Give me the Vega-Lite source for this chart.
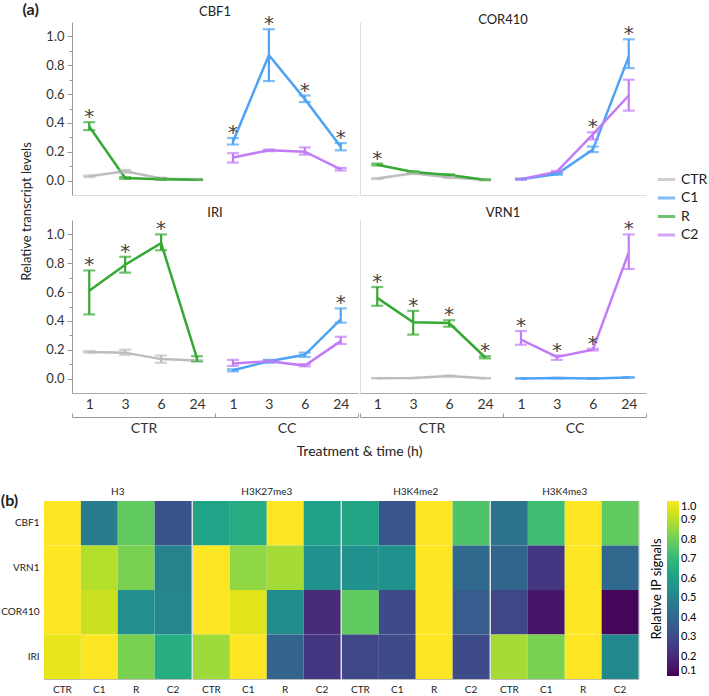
{
"$schema":"https://vega.github.io/schema/vega-lite/v6.json",
"padding":{"left":0,"top":2,"right":2,"bottom":0},
"datasets":{
"expr":[
{"gene":"CBF1","trt":"CTR","pos":"CTR 1","series":"CTR","mean":0.03,"lo":0.024,"hi":0.035,"star":0},
{"gene":"CBF1","trt":"CTR","pos":"CTR 3","series":"CTR","mean":0.065,"lo":0.056,"hi":0.074,"star":0},
{"gene":"CBF1","trt":"CTR","pos":"CTR 6","series":"CTR","mean":0.015,"lo":0.01,"hi":0.02,"star":0},
{"gene":"CBF1","trt":"CTR","pos":"CTR 24","series":"CTR","mean":0.008,"lo":0.005,"hi":0.011,"star":0},
{"gene":"CBF1","trt":"CTR","pos":"CTR 1","series":"R","mean":0.375,"lo":0.35,"hi":0.405,"star":1},
{"gene":"CBF1","trt":"CTR","pos":"CTR 3","series":"R","mean":0.018,"lo":0.012,"hi":0.024,"star":0},
{"gene":"CBF1","trt":"CTR","pos":"CTR 6","series":"R","mean":0.01,"lo":0.006,"hi":0.015,"star":0},
{"gene":"CBF1","trt":"CTR","pos":"CTR 24","series":"R","mean":0.006,"lo":0.004,"hi":0.008,"star":0},
{"gene":"CBF1","trt":"CC","pos":"CC 1","series":"C1","mean":0.27,"lo":0.25,"hi":0.295,"star":1},
{"gene":"CBF1","trt":"CC","pos":"CC 3","series":"C1","mean":0.87,"lo":0.69,"hi":1.05,"star":1},
{"gene":"CBF1","trt":"CC","pos":"CC 6","series":"C1","mean":0.565,"lo":0.545,"hi":0.59,"star":1},
{"gene":"CBF1","trt":"CC","pos":"CC 24","series":"C1","mean":0.235,"lo":0.21,"hi":0.26,"star":1},
{"gene":"CBF1","trt":"CC","pos":"CC 1","series":"C2","mean":0.16,"lo":0.125,"hi":0.19,"star":0},
{"gene":"CBF1","trt":"CC","pos":"CC 3","series":"C2","mean":0.21,"lo":0.204,"hi":0.216,"star":0},
{"gene":"CBF1","trt":"CC","pos":"CC 6","series":"C2","mean":0.2,"lo":0.18,"hi":0.23,"star":0},
{"gene":"CBF1","trt":"CC","pos":"CC 24","series":"C2","mean":0.078,"lo":0.07,"hi":0.088,"star":0},
{"gene":"COR410","trt":"CTR","pos":"CTR 1","series":"CTR","mean":0.014,"lo":0.01,"hi":0.018,"star":0},
{"gene":"COR410","trt":"CTR","pos":"CTR 3","series":"CTR","mean":0.05,"lo":0.045,"hi":0.055,"star":0},
{"gene":"COR410","trt":"CTR","pos":"CTR 6","series":"CTR","mean":0.022,"lo":0.018,"hi":0.026,"star":0},
{"gene":"COR410","trt":"CTR","pos":"CTR 24","series":"CTR","mean":0.005,"lo":0.003,"hi":0.007,"star":0},
{"gene":"COR410","trt":"CTR","pos":"CTR 1","series":"R","mean":0.11,"lo":0.105,"hi":0.118,"star":1},
{"gene":"COR410","trt":"CTR","pos":"CTR 3","series":"R","mean":0.06,"lo":0.055,"hi":0.065,"star":0},
{"gene":"COR410","trt":"CTR","pos":"CTR 6","series":"R","mean":0.038,"lo":0.033,"hi":0.043,"star":0},
{"gene":"COR410","trt":"CTR","pos":"CTR 24","series":"R","mean":0.005,"lo":0.003,"hi":0.008,"star":0},
{"gene":"COR410","trt":"CC","pos":"CC 1","series":"C1","mean":0.01,"lo":0.007,"hi":0.013,"star":0},
{"gene":"COR410","trt":"CC","pos":"CC 3","series":"C1","mean":0.045,"lo":0.04,"hi":0.05,"star":0},
{"gene":"COR410","trt":"CC","pos":"CC 6","series":"C1","mean":0.215,"lo":0.198,"hi":0.236,"star":0},
{"gene":"COR410","trt":"CC","pos":"CC 24","series":"C1","mean":0.86,"lo":0.78,"hi":0.98,"star":1},
{"gene":"COR410","trt":"CC","pos":"CC 1","series":"C2","mean":0.01,"lo":0.007,"hi":0.013,"star":0},
{"gene":"COR410","trt":"CC","pos":"CC 3","series":"C2","mean":0.062,"lo":0.057,"hi":0.067,"star":0},
{"gene":"COR410","trt":"CC","pos":"CC 6","series":"C2","mean":0.32,"lo":0.285,"hi":0.335,"star":1},
{"gene":"COR410","trt":"CC","pos":"CC 24","series":"C2","mean":0.59,"lo":0.485,"hi":0.7,"star":0},
{"gene":"IRI","trt":"CTR","pos":"CTR 1","series":"CTR","mean":0.185,"lo":0.18,"hi":0.19,"star":0},
{"gene":"IRI","trt":"CTR","pos":"CTR 3","series":"CTR","mean":0.18,"lo":0.165,"hi":0.2,"star":0},
{"gene":"IRI","trt":"CTR","pos":"CTR 6","series":"CTR","mean":0.135,"lo":0.11,"hi":0.16,"star":0},
{"gene":"IRI","trt":"CTR","pos":"CTR 24","series":"CTR","mean":0.125,"lo":0.12,"hi":0.13,"star":0},
{"gene":"IRI","trt":"CTR","pos":"CTR 1","series":"R","mean":0.61,"lo":0.445,"hi":0.75,"star":1},
{"gene":"IRI","trt":"CTR","pos":"CTR 3","series":"R","mean":0.79,"lo":0.735,"hi":0.845,"star":1},
{"gene":"IRI","trt":"CTR","pos":"CTR 6","series":"R","mean":0.94,"lo":0.89,"hi":1.0,"star":1},
{"gene":"IRI","trt":"CTR","pos":"CTR 24","series":"R","mean":0.14,"lo":0.12,"hi":0.155,"star":0},
{"gene":"IRI","trt":"CC","pos":"CC 1","series":"C1","mean":0.058,"lo":0.05,"hi":0.065,"star":0},
{"gene":"IRI","trt":"CC","pos":"CC 3","series":"C1","mean":0.12,"lo":0.11,"hi":0.13,"star":0},
{"gene":"IRI","trt":"CC","pos":"CC 6","series":"C1","mean":0.165,"lo":0.15,"hi":0.18,"star":0},
{"gene":"IRI","trt":"CC","pos":"CC 24","series":"C1","mean":0.41,"lo":0.388,"hi":0.487,"star":1},
{"gene":"IRI","trt":"CC","pos":"CC 1","series":"C2","mean":0.105,"lo":0.088,"hi":0.13,"star":0},
{"gene":"IRI","trt":"CC","pos":"CC 3","series":"C2","mean":0.12,"lo":0.115,"hi":0.125,"star":0},
{"gene":"IRI","trt":"CC","pos":"CC 6","series":"C2","mean":0.09,"lo":0.085,"hi":0.1,"star":0},
{"gene":"IRI","trt":"CC","pos":"CC 24","series":"C2","mean":0.26,"lo":0.24,"hi":0.29,"star":0},
{"gene":"VRN1","trt":"CTR","pos":"CTR 1","series":"CTR","mean":0.003,"lo":0.002,"hi":0.004,"star":0},
{"gene":"VRN1","trt":"CTR","pos":"CTR 3","series":"CTR","mean":0.004,"lo":0.003,"hi":0.005,"star":0},
{"gene":"VRN1","trt":"CTR","pos":"CTR 6","series":"CTR","mean":0.018,"lo":0.015,"hi":0.021,"star":0},
{"gene":"VRN1","trt":"CTR","pos":"CTR 24","series":"CTR","mean":0.003,"lo":0.002,"hi":0.004,"star":0},
{"gene":"VRN1","trt":"CTR","pos":"CTR 1","series":"R","mean":0.56,"lo":0.505,"hi":0.635,"star":1},
{"gene":"VRN1","trt":"CTR","pos":"CTR 3","series":"R","mean":0.39,"lo":0.305,"hi":0.47,"star":1},
{"gene":"VRN1","trt":"CTR","pos":"CTR 6","series":"R","mean":0.385,"lo":0.36,"hi":0.405,"star":1},
{"gene":"VRN1","trt":"CTR","pos":"CTR 24","series":"R","mean":0.148,"lo":0.14,"hi":0.155,"star":1},
{"gene":"VRN1","trt":"CC","pos":"CC 1","series":"C1","mean":0.001,"lo":0.0,"hi":0.002,"star":0},
{"gene":"VRN1","trt":"CC","pos":"CC 3","series":"C1","mean":0.004,"lo":0.003,"hi":0.005,"star":0},
{"gene":"VRN1","trt":"CC","pos":"CC 6","series":"C1","mean":0.001,"lo":0.0,"hi":0.002,"star":0},
{"gene":"VRN1","trt":"CC","pos":"CC 24","series":"C1","mean":0.008,"lo":0.006,"hi":0.01,"star":0},
{"gene":"VRN1","trt":"CC","pos":"CC 1","series":"C2","mean":0.27,"lo":0.235,"hi":0.33,"star":1},
{"gene":"VRN1","trt":"CC","pos":"CC 3","series":"C2","mean":0.15,"lo":0.13,"hi":0.16,"star":1},
{"gene":"VRN1","trt":"CC","pos":"CC 6","series":"C2","mean":0.2,"lo":0.195,"hi":0.207,"star":1},
{"gene":"VRN1","trt":"CC","pos":"CC 24","series":"C2","mean":0.875,"lo":0.76,"hi":1.0,"star":1}
],
"heat":[
{"mark":"H3","cond":"CTR","gene":"CBF1","v":1.0},{"mark":"H3","cond":"C1","gene":"CBF1","v":0.47},{"mark":"H3","cond":"R","gene":"CBF1","v":0.78},{"mark":"H3","cond":"C2","gene":"CBF1","v":0.33},
{"mark":"H3","cond":"CTR","gene":"VRN1","v":1.0},{"mark":"H3","cond":"C1","gene":"VRN1","v":0.9},{"mark":"H3","cond":"R","gene":"VRN1","v":0.82},{"mark":"H3","cond":"C2","gene":"VRN1","v":0.5},
{"mark":"H3","cond":"CTR","gene":"COR410","v":1.0},{"mark":"H3","cond":"C1","gene":"COR410","v":0.93},{"mark":"H3","cond":"R","gene":"COR410","v":0.54},{"mark":"H3","cond":"C2","gene":"COR410","v":0.51},
{"mark":"H3","cond":"CTR","gene":"IRI","v":0.97},{"mark":"H3","cond":"C1","gene":"IRI","v":1.0},{"mark":"H3","cond":"R","gene":"IRI","v":0.82},{"mark":"H3","cond":"C2","gene":"IRI","v":0.66},
{"mark":"H3K27me3","cond":"CTR","gene":"CBF1","v":0.62},{"mark":"H3K27me3","cond":"C1","gene":"CBF1","v":0.66},{"mark":"H3K27me3","cond":"R","gene":"CBF1","v":1.0},{"mark":"H3K27me3","cond":"C2","gene":"CBF1","v":0.61},
{"mark":"H3K27me3","cond":"CTR","gene":"VRN1","v":1.0},{"mark":"H3K27me3","cond":"C1","gene":"VRN1","v":0.85},{"mark":"H3K27me3","cond":"R","gene":"VRN1","v":0.88},{"mark":"H3K27me3","cond":"C2","gene":"VRN1","v":0.55},
{"mark":"H3K27me3","cond":"CTR","gene":"COR410","v":1.0},{"mark":"H3K27me3","cond":"C1","gene":"COR410","v":0.96},{"mark":"H3K27me3","cond":"R","gene":"COR410","v":0.53},{"mark":"H3K27me3","cond":"C2","gene":"COR410","v":0.21},
{"mark":"H3K27me3","cond":"CTR","gene":"IRI","v":0.87},{"mark":"H3K27me3","cond":"C1","gene":"IRI","v":1.0},{"mark":"H3K27me3","cond":"R","gene":"IRI","v":0.38},{"mark":"H3K27me3","cond":"C2","gene":"IRI","v":0.24},
{"mark":"H3K4me2","cond":"CTR","gene":"CBF1","v":0.63},{"mark":"H3K4me2","cond":"C1","gene":"CBF1","v":0.34},{"mark":"H3K4me2","cond":"R","gene":"CBF1","v":1.0},{"mark":"H3K4me2","cond":"C2","gene":"CBF1","v":0.75},
{"mark":"H3K4me2","cond":"CTR","gene":"VRN1","v":0.55},{"mark":"H3K4me2","cond":"C1","gene":"VRN1","v":0.55},{"mark":"H3K4me2","cond":"R","gene":"VRN1","v":1.0},{"mark":"H3K4me2","cond":"C2","gene":"VRN1","v":0.4},
{"mark":"H3K4me2","cond":"CTR","gene":"COR410","v":0.78},{"mark":"H3K4me2","cond":"C1","gene":"COR410","v":0.3},{"mark":"H3K4me2","cond":"R","gene":"COR410","v":1.0},{"mark":"H3K4me2","cond":"C2","gene":"COR410","v":0.36},
{"mark":"H3K4me2","cond":"CTR","gene":"IRI","v":0.29},{"mark":"H3K4me2","cond":"C1","gene":"IRI","v":0.3},{"mark":"H3K4me2","cond":"R","gene":"IRI","v":1.0},{"mark":"H3K4me2","cond":"C2","gene":"IRI","v":0.3},
{"mark":"H3K4me3","cond":"CTR","gene":"CBF1","v":0.44},{"mark":"H3K4me3","cond":"C1","gene":"CBF1","v":0.72},{"mark":"H3K4me3","cond":"R","gene":"CBF1","v":1.0},{"mark":"H3K4me3","cond":"C2","gene":"CBF1","v":0.78},
{"mark":"H3K4me3","cond":"CTR","gene":"VRN1","v":0.39},{"mark":"H3K4me3","cond":"C1","gene":"VRN1","v":0.24},{"mark":"H3K4me3","cond":"R","gene":"VRN1","v":1.0},{"mark":"H3K4me3","cond":"C2","gene":"VRN1","v":0.4},
{"mark":"H3K4me3","cond":"CTR","gene":"COR410","v":0.29},{"mark":"H3K4me3","cond":"C1","gene":"COR410","v":0.15},{"mark":"H3K4me3","cond":"R","gene":"COR410","v":1.0},{"mark":"H3K4me3","cond":"C2","gene":"COR410","v":0.11},
{"mark":"H3K4me3","cond":"CTR","gene":"IRI","v":0.88},{"mark":"H3K4me3","cond":"C1","gene":"IRI","v":0.82},{"mark":"H3K4me3","cond":"R","gene":"IRI","v":1.0},{"mark":"H3K4me3","cond":"C2","gene":"IRI","v":0.52}
]
},
"columns":1,
"align":"none",
"spacing":29,
"concat":[
{
"title":{"text":"(a)","anchor":"start","fontSize":16,"fontWeight":"bold","offset":-12,"dx":2},
"columns":2,
"bounds":"flush",
"spacing":{"row":25,"column":2},
"concat":[
{"width":314,"height":173,"title":{"text":"CBF1","offset":-5,"dx":14},"data":{"name":"expr"},
"transform":[{"filter":"datum.gene === 'CBF1'"}],
"layer":[
{"mark":{"type":"line","strokeWidth":2.5},"encoding":{
"x":{"field":"pos","type":"ordinal","sort":["CTR 1","CTR 3","CTR 6","CTR 24","CC 1","CC 3","CC 6","CC 24"],"scale":{"type":"point","padding":0.48,"range":[28,314]},"axis":{"labels":false,"ticks":false,"title":null,"domainColor":"#dddddd"}},
"y":{"field":"mean","type":"quantitative","title":"Relative transcript levels","scale":{"domain":[-0.1,1.1],"nice":false,"zero":false},"axis":{"offset":-28,"values":[0,0.1,0.2,0.3,0.4,0.5,0.6,0.7,0.8,0.9,1],"labelOverlap":false,"labelExpr":"round(datum.value*10)%2==0 ? format(datum.value,'.1f') : ''","tickSize":{"condition":{"test":"round(datum.value*10)%2==1","value":3},"value":5},"titleX":-38.5,"titleY":189,"titleAlign":"center","titleFontSize":13,"labelPadding":3}},
"color":{"field":"series","type":"nominal","scale":{"domain":["CTR","C1","R","C2"],"range":["#bdbdbd","#4fa3f4","#36a935","#c27cf7"]},"legend":{"title":null,"orient":"none","legendX":612,"legendY":147,"symbolType":"stroke","symbolStrokeWidth":3,"symbolSize":300,"labelFontSize":14,"rowPadding":0.5,"labelColor":"#222"}}}},
{"mark":{"type":"errorbar","ticks":true,"size":12,"thickness":2.2},"encoding":{
"x":{"field":"pos","type":"ordinal","sort":["CTR 1","CTR 3","CTR 6","CTR 24","CC 1","CC 3","CC 6","CC 24"]},
"y":{"field":"lo","type":"quantitative","title":"Relative transcript levels","scale":{"domain":[-0.1,1.1],"nice":false,"zero":false},"axis":{"offset":-28,"values":[0,0.1,0.2,0.3,0.4,0.5,0.6,0.7,0.8,0.9,1],"labelOverlap":false,"labelExpr":"round(datum.value*10)%2==0 ? format(datum.value,'.1f') : ''","tickSize":{"condition":{"test":"round(datum.value*10)%2==1","value":3},"value":5},"titleX":-38.5,"titleY":189,"titleAlign":"center","titleFontSize":13,"labelPadding":3}},"y2":{"field":"hi"},
"color":{"field":"series","type":"nominal"}}},
{"transform":[{"filter":"datum.star == 1"}],"mark":{"type":"text","text":"*","font":"DejaVu Sans","fontSize":20,"color":"#444","dy":-5},"encoding":{
"x":{"field":"pos","type":"ordinal","sort":["CTR 1","CTR 3","CTR 6","CTR 24","CC 1","CC 3","CC 6","CC 24"]},
"y":{"field":"hi","type":"quantitative","title":"Relative transcript levels","scale":{"domain":[-0.1,1.1],"nice":false,"zero":false},"axis":{"offset":-28,"values":[0,0.1,0.2,0.3,0.4,0.5,0.6,0.7,0.8,0.9,1],"labelOverlap":false,"labelExpr":"round(datum.value*10)%2==0 ? format(datum.value,'.1f') : ''","tickSize":{"condition":{"test":"round(datum.value*10)%2==1","value":3},"value":5},"titleX":-38.5,"titleY":189,"titleAlign":"center","titleFontSize":13,"labelPadding":3}}}}
]},
{"width":286,"height":173,"title":{"text":"COR410","offset":-5},"data":{"name":"expr"},
"transform":[{"filter":"datum.gene === 'COR410'"}],
"layer":[
{"mark":{"type":"line","strokeWidth":2.5},"encoding":{
"x":{"field":"pos","type":"ordinal","sort":["CTR 1","CTR 3","CTR 6","CTR 24","CC 1","CC 3","CC 6","CC 24"],"scale":{"type":"point","padding":0.48},"axis":{"labels":false,"ticks":false,"title":null,"domainColor":"#dddddd"}},
"y":{"field":"mean","type":"quantitative","title":null,"scale":{"domain":[-0.1,1.1],"nice":false,"zero":false},"axis":{"labels":false,"ticks":false,"title":null,"domainColor":"#dddddd"}},
"color":{"field":"series","type":"nominal","scale":{"domain":["CTR","C1","R","C2"],"range":["#bdbdbd","#4fa3f4","#36a935","#c27cf7"]},"legend":{"title":null,"orient":"none","legendX":612,"legendY":147,"symbolType":"stroke","symbolStrokeWidth":3,"symbolSize":300,"labelFontSize":14,"rowPadding":0.5,"labelColor":"#222"}}}},
{"mark":{"type":"errorbar","ticks":true,"size":12,"thickness":2.2},"encoding":{
"x":{"field":"pos","type":"ordinal","sort":["CTR 1","CTR 3","CTR 6","CTR 24","CC 1","CC 3","CC 6","CC 24"]},
"y":{"field":"lo","type":"quantitative","title":null,"scale":{"domain":[-0.1,1.1],"nice":false,"zero":false}},"y2":{"field":"hi"},
"color":{"field":"series","type":"nominal"}}},
{"transform":[{"filter":"datum.star == 1"}],"mark":{"type":"text","text":"*","font":"DejaVu Sans","fontSize":20,"color":"#444","dy":-5},"encoding":{
"x":{"field":"pos","type":"ordinal","sort":["CTR 1","CTR 3","CTR 6","CTR 24","CC 1","CC 3","CC 6","CC 24"]},
"y":{"field":"hi","type":"quantitative","title":null,"scale":{"domain":[-0.1,1.1],"nice":false,"zero":false}}}}
]},
{"width":314,"height":173,"title":{"text":"IRI","offset":-1,"dx":14},"data":{"name":"expr"},
"transform":[{"filter":"datum.gene === 'IRI'"}],
"resolve":{"scale":{"x":"independent"},"axis":{"x":"independent"}},
"layer":[
{"layer":[
{"mark":{"type":"line","strokeWidth":2.5},"encoding":{
"x":{"field":"pos","type":"ordinal","sort":["CTR 1","CTR 3","CTR 6","CTR 24","CC 1","CC 3","CC 6","CC 24"],"scale":{"type":"point","padding":0.48,"range":[28,314]},"axis":{"orient":"bottom","title":null,"ticks":false,"domainColor":"#aaaaaa","labelPadding":4,"labelFontSize":14,"labelAngle":0,"labelExpr":"split(datum.label,' ')[1]"}},
"y":{"field":"mean","type":"quantitative","title":null,"scale":{"domain":[-0.1,1.1],"nice":false,"zero":false},"axis":{"offset":-28,"values":[0,0.1,0.2,0.3,0.4,0.5,0.6,0.7,0.8,0.9,1],"labelOverlap":false,"labelExpr":"round(datum.value*10)%2==0 ? format(datum.value,'.1f') : ''","tickSize":{"condition":{"test":"round(datum.value*10)%2==1","value":3},"value":5},"labelPadding":3}},
"color":{"field":"series","type":"nominal","scale":{"domain":["CTR","C1","R","C2"],"range":["#bdbdbd","#4fa3f4","#36a935","#c27cf7"]},"legend":{"title":null,"orient":"none","legendX":612,"legendY":147,"symbolType":"stroke","symbolStrokeWidth":3,"symbolSize":300,"labelFontSize":14,"rowPadding":0.5,"labelColor":"#222"}}}},
{"mark":{"type":"errorbar","ticks":true,"size":12,"thickness":2.2},"encoding":{
"x":{"field":"pos","type":"ordinal","sort":["CTR 1","CTR 3","CTR 6","CTR 24","CC 1","CC 3","CC 6","CC 24"]},
"y":{"field":"lo","type":"quantitative","title":null,"scale":{"domain":[-0.1,1.1],"nice":false,"zero":false},"axis":{"offset":-28,"values":[0,0.1,0.2,0.3,0.4,0.5,0.6,0.7,0.8,0.9,1],"labelOverlap":false,"labelExpr":"round(datum.value*10)%2==0 ? format(datum.value,'.1f') : ''","tickSize":{"condition":{"test":"round(datum.value*10)%2==1","value":3},"value":5},"labelPadding":3}},"y2":{"field":"hi"},
"color":{"field":"series","type":"nominal"}}},
{"transform":[{"filter":"datum.star == 1"}],"mark":{"type":"text","text":"*","font":"DejaVu Sans","fontSize":20,"color":"#444","dy":-5},"encoding":{
"x":{"field":"pos","type":"ordinal","sort":["CTR 1","CTR 3","CTR 6","CTR 24","CC 1","CC 3","CC 6","CC 24"]},
"y":{"field":"hi","type":"quantitative","title":null,"scale":{"domain":[-0.1,1.1],"nice":false,"zero":false},"axis":{"offset":-28,"values":[0,0.1,0.2,0.3,0.4,0.5,0.6,0.7,0.8,0.9,1],"labelOverlap":false,"labelExpr":"round(datum.value*10)%2==0 ? format(datum.value,'.1f') : ''","tickSize":{"condition":{"test":"round(datum.value*10)%2==1","value":3},"value":5},"labelPadding":3}}}}
]},
{"mark":{"type":"point","opacity":0},"encoding":{
"x":{"field":"trt","type":"nominal","sort":["CTR","CC"],"scale":{"type":"band","paddingInner":0,"paddingOuter":0,"range":[28,314]},"axis":{"orient":"bottom","offset":24,"title":"Treatment & time (h)","titleX":315,"titlePadding":9,"domainColor":"#999999","tickColor":"#999999","tickBand":"extent","tickSize":-4,"labelPadding":8,"labelFontSize":14,"labelAngle":0}}}}
]},
{"width":286,"height":173,"title":{"text":"VRN1","offset":-1},"data":{"name":"expr"},
"transform":[{"filter":"datum.gene === 'VRN1'"}],
"resolve":{"scale":{"x":"independent"},"axis":{"x":"independent"}},
"layer":[
{"layer":[
{"mark":{"type":"line","strokeWidth":2.5},"encoding":{
"x":{"field":"pos","type":"ordinal","sort":["CTR 1","CTR 3","CTR 6","CTR 24","CC 1","CC 3","CC 6","CC 24"],"scale":{"type":"point","padding":0.48},"axis":{"orient":"bottom","title":null,"ticks":false,"domainColor":"#aaaaaa","labelPadding":4,"labelFontSize":14,"labelAngle":0,"labelExpr":"split(datum.label,' ')[1]"}},
"y":{"field":"mean","type":"quantitative","title":null,"scale":{"domain":[-0.1,1.1],"nice":false,"zero":false},"axis":{"labels":false,"ticks":false,"title":null,"domainColor":"#dddddd"}},
"color":{"field":"series","type":"nominal","scale":{"domain":["CTR","C1","R","C2"],"range":["#bdbdbd","#4fa3f4","#36a935","#c27cf7"]},"legend":{"title":null,"orient":"none","legendX":612,"legendY":147,"symbolType":"stroke","symbolStrokeWidth":3,"symbolSize":300,"labelFontSize":14,"rowPadding":0.5,"labelColor":"#222"}}}},
{"mark":{"type":"errorbar","ticks":true,"size":12,"thickness":2.2},"encoding":{
"x":{"field":"pos","type":"ordinal","sort":["CTR 1","CTR 3","CTR 6","CTR 24","CC 1","CC 3","CC 6","CC 24"]},
"y":{"field":"lo","type":"quantitative","title":null,"scale":{"domain":[-0.1,1.1],"nice":false,"zero":false}},"y2":{"field":"hi"},
"color":{"field":"series","type":"nominal"}}},
{"transform":[{"filter":"datum.star == 1"}],"mark":{"type":"text","text":"*","font":"DejaVu Sans","fontSize":20,"color":"#444","dy":-5},"encoding":{
"x":{"field":"pos","type":"ordinal","sort":["CTR 1","CTR 3","CTR 6","CTR 24","CC 1","CC 3","CC 6","CC 24"]},
"y":{"field":"hi","type":"quantitative","title":null,"scale":{"domain":[-0.1,1.1],"nice":false,"zero":false}}}}
]},
{"mark":{"type":"point","opacity":0},"encoding":{
"x":{"field":"trt","type":"nominal","sort":["CTR","CC"],"scale":{"type":"band","paddingInner":0,"paddingOuter":0},"axis":{"orient":"bottom","offset":24,"title":null,"domainColor":"#999999","tickColor":"#999999","tickBand":"extent","tickSize":-4,"labelPadding":8,"labelFontSize":14,"labelAngle":0}}}}
]}
]
},
{
"title":{"text":"(b)","anchor":"start","fontSize":16,"fontWeight":"bold","offset":-22},
"data":{"name":"heat"},
"spacing":0,
"facet":{"column":{"field":"mark","type":"nominal","sort":["H3","H3K27me3","H3K4me2","H3K4me3"],"header":{"title":null,"labelFontSize":10,"labelPadding":3,"labelColor":"#222"}}},
"spec":{
"width":147.5,"height":178,
"view":{"stroke":"#bbbbbb","strokeWidth":1},
"mark":{"type":"rect","strokeWidth":0},
"encoding":{
"x":{"field":"cond","type":"nominal","sort":["CTR","C1","R","C2"],"scale":{"paddingInner":0,"paddingOuter":0},"axis":{"title":null,"labelAngle":0,"ticks":false,"domain":false,"labelFontSize":10,"labelPadding":4,"labelColor":"#222"}},
"y":{"field":"gene","type":"nominal","sort":["CBF1","VRN1","COR410","IRI"],"scale":{"paddingInner":0,"paddingOuter":0},"axis":{"title":null,"ticks":false,"domain":false,"labelFontSize":10,"labelPadding":4,"labelColor":"#222"}},
"color":{"field":"v","type":"quantitative","scale":{"scheme":"viridis","domain":[0.1,1]},"legend":{"title":"Relative IP signals","titleOrient":"left","titleAnchor":"middle","titleFontSize":13,"titleFontWeight":"normal","titlePadding":2,"gradientLength":175,"gradientThickness":12,"values":[0.1,0.2,0.3,0.4,0.5,0.6,0.7,0.8,0.9,1.0],"format":".1f","labelFontSize":11,"offset":12}}
}
}
}
],
"resolve":{"scale":{"color":"independent"},"legend":{"color":"independent"}},
"config":{
"font":"Lato",
"view":{"stroke":null},
"axis":{"grid":false,"labelOverlap":false,"labelFontSize":13,"labelColor":"#333333","domainColor":"#999999","tickColor":"#999999","titleFontSize":14,"titleFontWeight":"normal","titleColor":"#222222"},
"title":{"fontSize":13,"fontWeight":"normal","color":"#222222"}
}
}
